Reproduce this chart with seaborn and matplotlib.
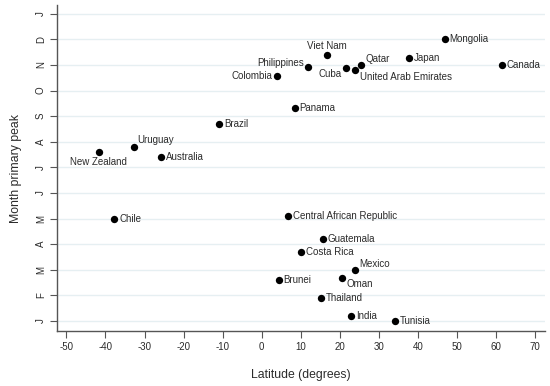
import matplotlib
matplotlib.use("Agg")
import matplotlib.pyplot as plt
import seaborn as sns
import pandas as pd

countries = ["Mongolia", "Canada", "Japan", "Qatar", "United Arab Emirates", "Cuba",
             "Viet Nam", "Philippines", "Colombia", "Panama", "Brazil", "Uruguay",
             "New Zealand", "Australia", "Chile", "Central African Republic",
             "Guatemala", "Costa Rica", "Mexico", "Oman", "Brunei", "Thailand",
             "India", "Tunisia"]
latitude = [46.8, 61.4, 37.6, 25.3, 23.8, 21.5, 16.6, 11.8, 3.8, 8.4, -11.0, -32.7,
            -41.7, -25.8, -37.8, 6.6, 15.6, 10.0, 23.8, 20.5, 4.3, 15.1, 22.8, 34.0]
month_peak = [12.0, 11.0, 11.27, 11.0, 10.8, 10.88, 11.4, 10.9, 10.57, 9.32, 8.7, 7.8,
              7.6, 7.4, 5.0, 5.1, 4.2, 3.7, 3.0, 2.68, 2.6, 1.9, 1.2, 1.0]
month_ticks = ["J", "F", "M", "A", "M", "J", "J", "A", "S", "O", "N", "D", "J"]
x_ticks = [-50, -40, -30, -20, -10, 0, 10, 20, 30, 40, 50, 60, 70]

df = pd.DataFrame({"country": countries, "lat": latitude, "month": month_peak})

sns.set_theme(style="white")
plt.rcParams["font.family"] = ["Liberation Sans", "DejaVu Sans"]

fig = plt.figure(figsize=(5.5, 3.86), dpi=100)
ax = fig.add_axes([0.1036, 0.1425, 0.8874, 0.8445])

for i in range(1, 14):
    ax.axhline(i, color="#e6eff2", lw=1.0, zorder=0)

sns.scatterplot(data=df, x="lat", y="month", color="black", s=28, edgecolor="black",
                linewidth=0, ax=ax, zorder=3)

# label offsets in pixels: (dx, dy, ha, va)
offsets = {
    "Viet Nam": (0, 4, "center", "bottom"),
    "Philippines": (-4, 4, "right", "center"),
    "Colombia": (-4, 0, "right", "center"),
    "Cuba": (-4, -6, "right", "center"),
    "United Arab Emirates": (5, -7, "left", "center"),
    "Qatar": (5, 6, "left", "center"),
    "Uruguay": (3, 7, "left", "center"),
    "New Zealand": (0, -5, "center", "top"),
    "Mexico": (5, 6, "left", "center"),
    "Oman": (5, -6, "left", "center"),
}
for c, x, y in zip(countries, latitude, month_peak):
    dx, dy, ha, va = offsets.get(c, (5, 0, "left", "center"))
    ax.annotate(c, (x, y), xytext=(dx, dy), textcoords="offset pixels",
                ha=ha, va=va, fontsize=7.0, color="#2b2b2b")

ax.set_xlim(-52.4, 72.5)
ax.set_ylim(0.61, 13.34)
ax.set_xticks(x_ticks)
ax.set_xticklabels([str(t) for t in x_ticks])
ax.set_yticks(range(1, 14))
ax.set_yticklabels(month_ticks, rotation=90, va="center")
ax.tick_params(axis="both", which="both", direction="out", length=5, width=0.8,
               color="#555555", labelsize=7.0, labelcolor="#2b2b2b", pad=3,
               left=True, bottom=True)
for s in ["top", "right"]:
    ax.spines[s].set_visible(False)
for s in ["left", "bottom"]:
    ax.spines[s].set_color("#555555")
    ax.spines[s].set_linewidth(1.0)

ax.set_xlabel("Latitude (degrees)", fontsize=8.8, color="#2b2b2b", labelpad=12)
ax.set_ylabel("Month primary peak", fontsize=8.8, color="#2b2b2b", labelpad=10)

fig.savefig("out.png", dpi=100)
